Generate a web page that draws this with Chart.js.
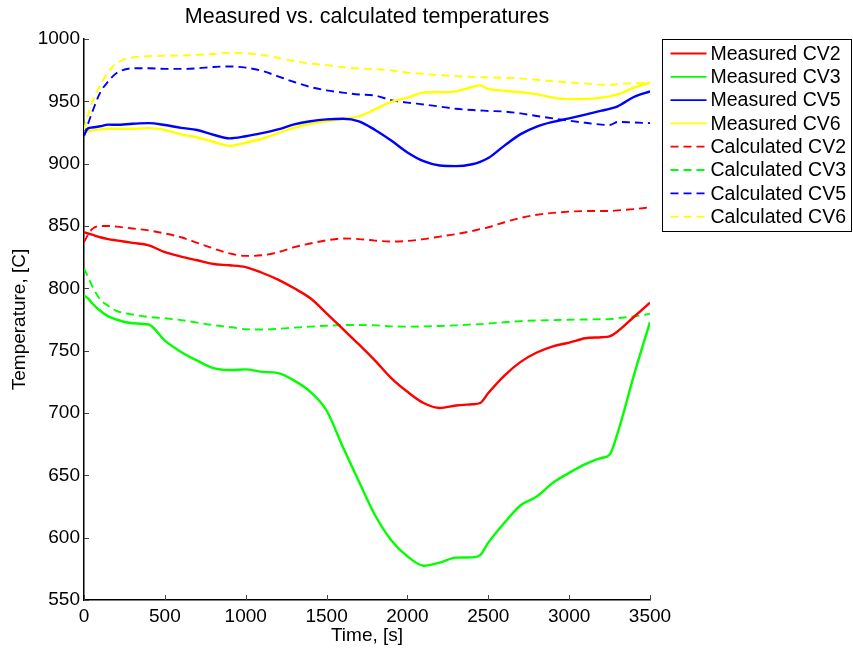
<!DOCTYPE html>
<html>
<head>
<meta charset="utf-8">
<title>Measured vs. calculated temperatures</title>
<script src="https://cdn.jsdelivr.net/npm/chart.js@4.4.1/dist/chart.umd.min.js"></script>
<style>
  html, body { margin: 0; padding: 0; background: #fff; }
  #wrap { width: 853px; height: 649px; }
</style>
</head>
<body>
<div id="wrap"><canvas id="temps" width="853" height="649"></canvas></div>
<script>
// time stamps [s], shared by all eight curves
const times = [0, 25, 50, 100, 150, 200,
  300, 400, 500, 600, 700, 800, 900, 1000, 1100, 1200, 1300, 1400, 1500, 1600, 1700, 1800, 1900, 2000, 2100, 2200, 2300, 2400,
  2450, 2500, 2600, 2700, 2800, 2900, 3000, 3100, 3200,
  3250, 3300, 3400, 3500];

const measuredCV2 = [845, 844, 843, 841, 839.5, 838.5,
  836.5, 834.5, 829, 825.5, 822.5, 819.5, 818.5, 817, 812.5, 807, 800, 792, 780, 767.5, 755, 742, 728, 717, 708, 704, 706, 707,
  708, 716, 730, 741, 748.5, 753.5, 756.5, 760, 760.8,
  761.5, 765.5, 777, 788.5];

const measuredCV3 = [794, 792, 788, 782, 777.5, 775,
  772, 771, 758, 749, 742, 736, 734.5, 735, 733, 732, 726, 717, 702, 673, 645, 618, 598, 585, 577.5, 580, 584, 584.2,
  586, 596, 612, 626, 633, 644, 652, 659, 664,
  666.5, 684, 730, 773];

const measuredCV5 = [923, 928.3, 929, 930, 931.3, 931.2,
  932, 932.5, 931, 928.7, 927, 923.2, 920.3, 922, 924.5, 927.5, 931.5, 934, 935.5, 936, 934, 927, 918.5, 909, 902, 898.5, 898, 899.5,
  901.5, 904.5, 914.5, 923.7, 929.8, 933.5, 936.3, 939.3, 942.5,
  944, 946, 953.5, 958];

const measuredCV6 = [925, 926, 926.5, 927.5, 928, 928,
  928, 928.5, 927, 923.5, 921, 917.6, 914.3, 916.8, 920, 924.5, 928.8, 932, 934, 935.8, 938, 943.5, 949.5, 953, 957, 957.3, 958, 961.5,
  962.8, 960, 958.5, 957.3, 955.8, 953, 951.8, 951.9, 953,
  954, 955.5, 961, 965];

const calculatedCV2 = [837, 843, 847.5, 850, 850, 849.5,
  848, 846.5, 844, 841, 836.5, 832, 828, 826, 826.5, 829, 833, 836, 838.5, 840, 839.5, 838.3, 837.5, 838, 839.5, 841.5, 843.5, 846,
  847.5, 849, 853, 856.5, 859, 860.5, 861.5, 862, 862,
  862, 862.5, 863.5, 865];

const calculatedCV3 = [816, 809, 802, 791, 786, 782,
  779, 777, 776, 774.5, 772.5, 770.5, 769, 767.2, 767, 767.5, 768.5, 769.3, 770, 770.5, 770.6, 770.3, 769.5, 769.3, 769.5, 769.8, 770.3, 771,
  771.3, 771.8, 772.8, 773.7, 774.2, 774.5, 774.8, 775, 775.2,
  775.3, 776, 777.5, 779.5];

const calculatedCV5 = [922, 932, 941, 957, 966, 972.5,
  976.5, 976.5, 976, 976, 976.5, 977.5, 978, 977, 974.5, 970, 965.5, 961.5, 958.8, 957, 955.5, 954.6, 951, 949, 947.5, 945.8, 944, 943,
  942.7, 942.3, 941.8, 940.3, 938.2, 936.3, 934.5, 932.8, 931.3,
  931, 933.5, 933, 932.5];

const calculatedCV6 = [927, 939, 949, 963, 973.5, 980.5,
  985.2, 986.2, 986.5, 986.7, 987.3, 988, 989, 988.5, 987.3, 984.8, 982.3, 980.3, 979, 977.4, 976.3, 975.8, 974.7, 973, 972, 971, 970.2, 969.6,
  969.4, 969.2, 968.8, 968.4, 967.3, 966.2, 965.2, 964.2, 963.4,
  963.1, 963.8, 964.5, 965];

const seriesLabels = ['Measured CV2', 'Measured CV3', 'Measured CV5', 'Measured CV6',
  'Calculated CV2', 'Calculated CV3', 'Calculated CV5', 'Calculated CV6'];
const seriesValues = [measuredCV2, measuredCV3, measuredCV5, measuredCV6,
  calculatedCV2, calculatedCV3, calculatedCV5, calculatedCV6];

const titleText = 'Measured vs. calculated temperatures';
const xTitle = 'Time, [s]';
const yTitle = 'Temperature, [C]';

const FONT = '"Liberation Sans", Arial, Helvetica, sans-serif';
const colors = ['#ff0000', '#00ff00', '#0000ff', '#ffff00'];
const DASH = [8, 5];

const datasets = seriesLabels.map((label, i) => ({
    label: label,
    data: times.map((t, k) => ({ x: t, y: seriesValues[i][k] })),
    borderColor: colors[i % 4],
    backgroundColor: colors[i % 4],
    borderWidth: i < 4 ? 2.4 : 1.9,
    borderDash: i < 4 ? [] : DASH,
    pointRadius: 0,
    fill: false,
    cubicInterpolationMode: 'monotone'
}));

// inward tick marks, like the left/bottom axes of the original plot
const innerTicks = {
    id: 'innerTicks',
    afterDatasetsDraw(chart) {
        const { ctx, chartArea, scales } = chart;
        ctx.save();
        ctx.strokeStyle = '#444';
        ctx.lineWidth = 1;
        ctx.beginPath();
        scales.x.ticks.forEach(t => {
            const px = Math.round(scales.x.getPixelForValue(t.value)) + 0.5;
            ctx.moveTo(px, chartArea.bottom);
            ctx.lineTo(px, chartArea.bottom - 5);
        });
        scales.y.ticks.forEach(t => {
            const py = Math.round(scales.y.getPixelForValue(t.value)) + 0.5;
            ctx.moveTo(chartArea.left, py);
            ctx.lineTo(chartArea.left + 5, py);
        });
        ctx.stroke();
        ctx.restore();
    }
};

// title centred over the plot area
const plotTitle = {
    id: 'plotTitle',
    afterDraw(chart) {
        const { ctx, chartArea } = chart;
        ctx.save();
        ctx.fillStyle = '#000';
        ctx.font = '21.5px ' + FONT;
        ctx.textAlign = 'center';
        ctx.textBaseline = 'middle';
        ctx.fillText(titleText, (chartArea.left + chartArea.right) / 2, 17);
        ctx.restore();
    }
};

// boxed legend to the right of the axes
const boxLegend = {
    id: 'boxLegend',
    afterDraw(chart) {
        const { ctx, chartArea } = chart;
        const x0 = chartArea.right + 12.5;
        const y0 = chartArea.top + 0.5;
        const w = 189, h = 192, rowH = 23.3;
        ctx.save();
        ctx.fillStyle = '#fff';
        ctx.fillRect(x0, y0, w, h);
        ctx.strokeStyle = '#000';
        ctx.lineWidth = 1;
        ctx.strokeRect(x0, y0, w, h);
        ctx.font = '19.5px ' + FONT;
        ctx.textBaseline = 'middle';
        ctx.textAlign = 'left';
        chart.data.datasets.forEach((ds, i) => {
            const cy = y0 + 14 + i * rowH;
            ctx.strokeStyle = ds.borderColor;
            ctx.lineWidth = 1.8;
            ctx.setLineDash(ds.borderDash);
            ctx.beginPath();
            ctx.moveTo(x0 + 8, cy);
            ctx.lineTo(x0 + 44, cy);
            ctx.stroke();
            ctx.setLineDash([]);
            ctx.fillStyle = '#000';
            ctx.fillText(ds.label, x0 + 48, cy + 1);
        });
        ctx.restore();
    }
};

new Chart(document.getElementById('temps'), {
    type: 'line',
    data: { datasets: datasets },
    plugins: [innerTicks, plotTitle, boxLegend],
    options: {
        responsive: false,
        devicePixelRatio: 1,
        animation: false,
        layout: { padding: { top: 39, right: 203, left: 0, bottom: 0 } },
        plugins: {
            legend: { display: false },
            title: { display: false },
            tooltip: { enabled: false }
        },
        scales: {
            x: {
                type: 'linear',
                min: 0,
                max: 3500,
                afterFit: s => { s.height = 49; },
                border: { display: true, color: '#000', width: 1.5 },
                grid: { display: true, drawOnChartArea: false, drawTicks: false },
                ticks: {
                    stepSize: 500,
                    padding: 5,
                    color: '#000',
                    maxRotation: 0,
                    font: { family: FONT, size: 19 },
                    callback: v => String(v)
                },
                title: {
                    display: true,
                    text: xTitle,
                    color: '#000',
                    font: { family: FONT, size: 19 },
                    padding: { top: 0, bottom: 2 }
                }
            },
            y: {
                type: 'linear',
                min: 550,
                max: 1000,
                afterFit: s => { s.width = 84; },
                border: { display: true, color: '#000', width: 1.5 },
                grid: { display: true, drawOnChartArea: false, drawTicks: false },
                ticks: {
                    stepSize: 50,
                    padding: 4,
                    color: '#000',
                    font: { family: FONT, size: 19 },
                    callback: v => String(v)
                },
                title: {
                    display: true,
                    text: yTitle,
                    color: '#000',
                    font: { family: FONT, size: 19 },
                    padding: { top: 8, bottom: 0 }
                }
            }
        }
    }
});
</script>
</body>
</html>
